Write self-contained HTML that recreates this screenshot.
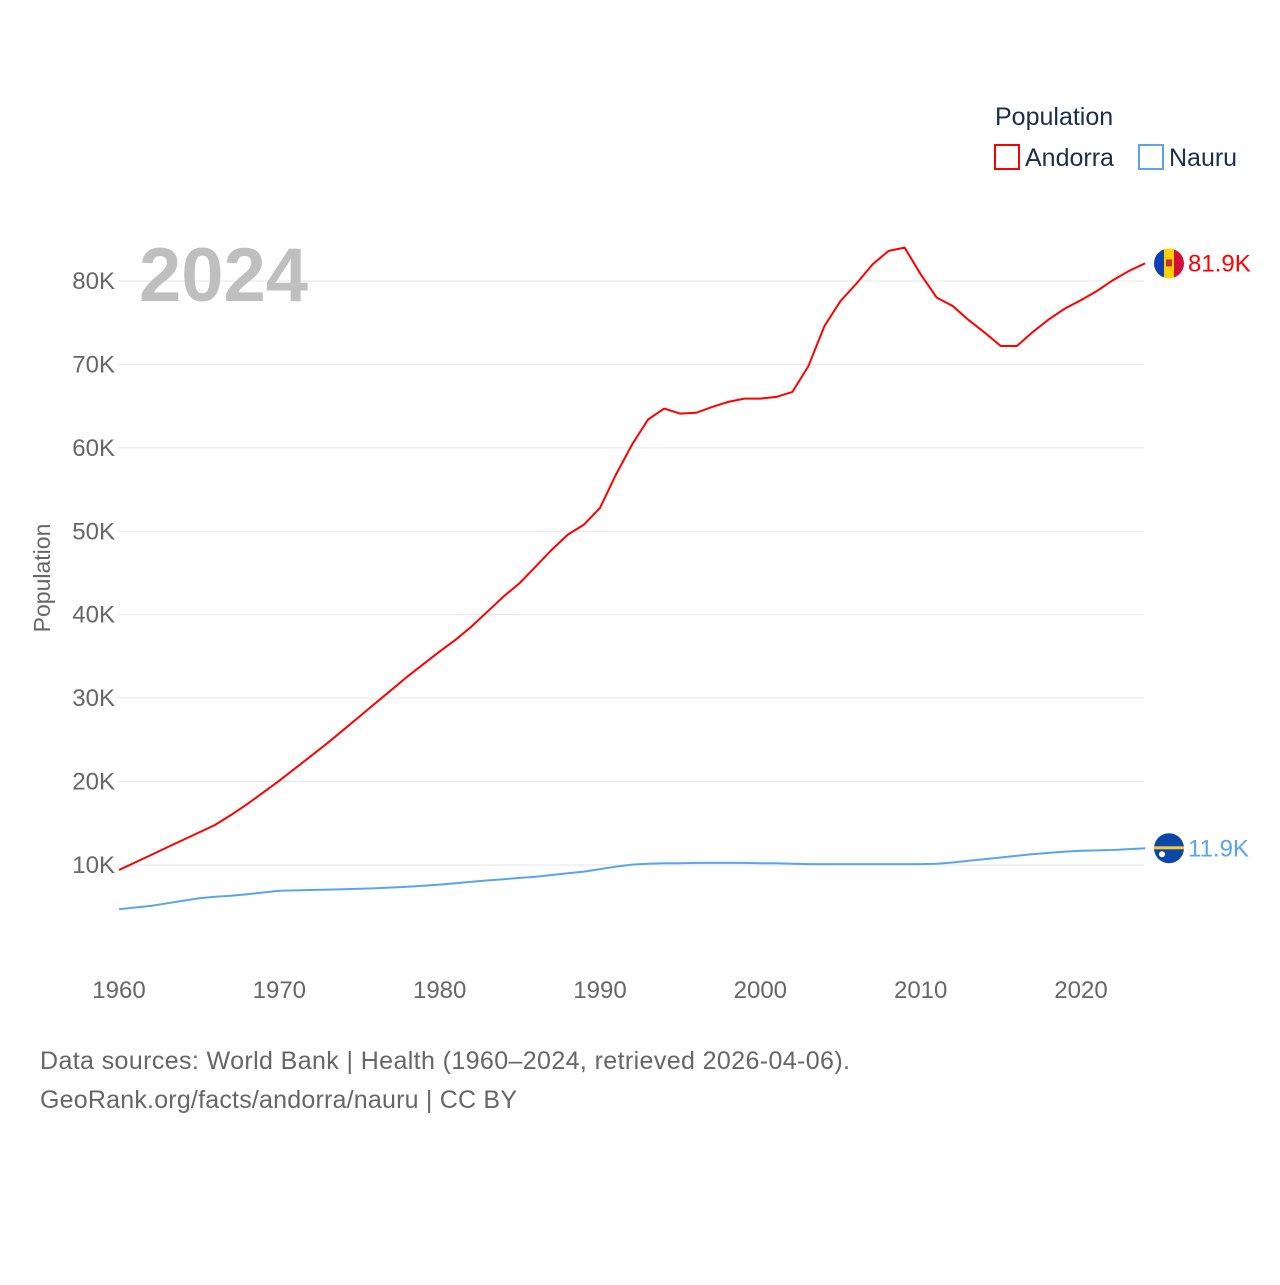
<!DOCTYPE html>
<html><head><meta charset="utf-8"><style>
body{margin:0;background:#fff;font-family:"Liberation Sans",sans-serif}
svg text{font-family:"Liberation Sans",sans-serif}
</style></head><body>
<svg width="1280" height="1280" xmlns="http://www.w3.org/2000/svg">
<text x="995" y="125" font-size="25" fill="#1a2e4a">Population</text>
<g><rect x="995" y="145" width="24" height="24" fill="none" stroke="#ff0000" stroke-width="2"/><text x="1025" y="166" font-size="25" fill="#1a2e4a">Andorra</text></g>
<g><rect x="1139" y="145" width="24" height="24" fill="none" stroke="#5aa5ea" stroke-width="2"/><text x="1169" y="166" font-size="25" fill="#1a2e4a">Nauru</text></g>
<g id="grid"></g>
<text x="139" y="301" font-size="76" font-weight="bold" fill="#bfbfbf">2024</text>
<g id="yt"></g>
<g id="xt"></g>
<text transform="translate(50,578) rotate(-90)" text-anchor="middle" font-size="23" fill="#666">Population</text>
<path id="la" fill="none" stroke="#ff0000" stroke-width="2"/>
<path id="ln" fill="none" stroke="#5aa5ea" stroke-width="2"/>
<g id="ends"></g>
<text x="40" y="1069" font-size="25" fill="#666" textLength="810">Data sources: World Bank | Health (1960–2024, retrieved 2026-04-06).</text>
<text x="40" y="1108" font-size="25" fill="#666" textLength="477">GeoRank.org/facts/andorra/nauru | CC BY</text>
</svg>
<script>
const years=[];for(let y=1960;y<=2024;y++)years.push(y);
const andorra=[9.4,10.3,11.2,12.1,13.0,13.9,14.8,16.0,17.3,18.7,20.1,21.6,23.1,24.6,26.2,27.8,29.4,31.0,32.6,34.1,35.6,37.0,38.6,40.4,42.2,43.8,45.8,47.8,49.6,50.8,52.8,56.8,60.4,63.4,64.7,64.1,64.2,64.9,65.5,65.9,65.9,66.1,66.7,69.8,74.6,77.6,79.7,82.0,83.6,84.0,80.8,78.0,77.0,75.3,73.8,72.2,72.2,73.9,75.4,76.7,77.7,78.8,80.1,81.2,82.1];
const nauru=[4.7,4.9,5.1,5.4,5.7,6.0,6.2,6.3,6.5,6.7,6.9,6.95,7.0,7.05,7.1,7.15,7.2,7.3,7.4,7.5,7.65,7.8,8.0,8.15,8.3,8.45,8.6,8.8,9.0,9.2,9.5,9.8,10.05,10.15,10.2,10.2,10.25,10.25,10.25,10.25,10.2,10.2,10.15,10.1,10.1,10.1,10.1,10.1,10.1,10.1,10.1,10.15,10.3,10.5,10.7,10.9,11.1,11.3,11.45,11.6,11.7,11.75,11.8,11.9,12.0];
const yTicks=[10,20,30,40,50,60,70,80];
const xTicks=[1960,1970,1980,1990,2000,2010,2020];
const endLabels=["81.9K","11.9K"];
const X=y=>119+(y-1960)*962/60, Y=v=>948.4-v*8.343;
const ns="http://www.w3.org/2000/svg";
function mk(t,a,p){const e=document.createElementNS(ns,t);for(const k in a)e.setAttribute(k,a[k]);p.appendChild(e);return e;}
const grid=document.getElementById('grid'),yt=document.getElementById('yt'),xt=document.getElementById('xt');
yTicks.forEach(v=>{const l=mk('line',{x1:118,x2:1144,y1:Y(v*1),y2:Y(v*1),stroke:'#e6e6e6','stroke-width':1},grid);


const t=mk('text',{x:115,y:Y(v)+8,'text-anchor':'end','font-size':24,fill:'#666'},yt);t.textContent=v+'K';

});
xTicks.forEach(y=>{const t=mk('text',{x:X(y),y:998,'text-anchor':'middle','font-size':24,fill:'#666'},xt);t.textContent=y;

});
const path=a=>a.map((v,i)=>(i?'L':'M')+X(years[i]).toFixed(1)+','+Y(v).toFixed(1)).join('');
document.getElementById('la').setAttribute('d',path(andorra));
document.getElementById('ln').setAttribute('d',path(nauru));
const ends=document.getElementById('ends');
const ya=Y(andorra[andorra.length-1]),yn=Y(nauru[nauru.length-1]);
const ga=mk('g',{},ends);


mk('clipPath',{id:'ca'},ga).appendChild(document.createElementNS(ns,'circle'));
const c1=ga.querySelector('circle');c1.setAttribute('cx',1169);c1.setAttribute('cy',ya);c1.setAttribute('r',15);
const g1=mk('g',{'clip-path':'url(#ca)'},ga);
mk('rect',{x:1154,y:ya-15,width:10,height:30,fill:'#1040b0'},g1);
mk('rect',{x:1164,y:ya-15,width:10,height:30,fill:'#fed000'},g1);
mk('rect',{x:1174,y:ya-15,width:10,height:30,fill:'#d0103a'},g1);
mk('rect',{x:1166,y:ya-4,width:6,height:7,fill:'#c7302a'},g1);
let t=mk('text',{x:1188,y:ya+8,'font-size':24,fill:'#ff0000'},ga);t.textContent=endLabels[0];
const gn=mk('g',{},ends);


mk('circle',{cx:1169,cy:yn,r:15,fill:'#0a47a8'},gn);
mk('rect',{x:1154,y:yn-2,width:30,height:3,fill:'#ffc72c'},gn);
mk('circle',{cx:1162,cy:yn+6,r:3,fill:'#fff'},gn);
t=mk('text',{x:1188,y:yn+8,'font-size':24,fill:'#5aa5ea'},gn);t.textContent=endLabels[1];
</script>
</body></html>
